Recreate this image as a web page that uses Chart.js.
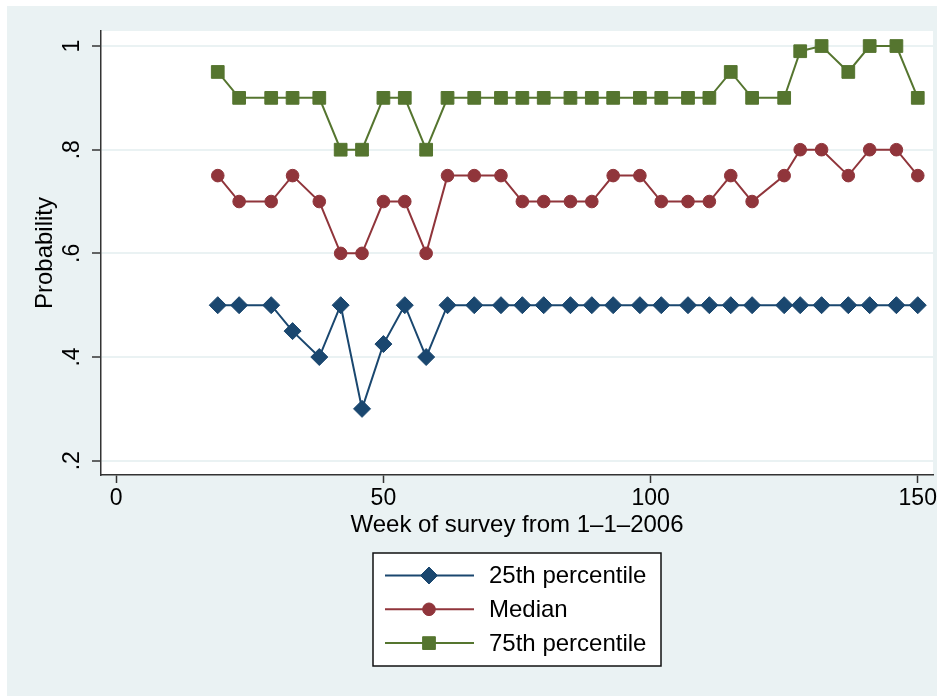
<!DOCTYPE html>
<html>
<head>
<meta charset="utf-8">
<script src="https://cdn.jsdelivr.net/npm/chart.js@4.4.1/dist/chart.umd.min.js"></script>
<style>
  body { margin: 0; background: #fff; }
  canvas { display: block; }
</style>
</head>
<body>
<canvas id="diagram" width="946" height="696"></canvas>
<script>
// weeks since 1-1-2006
const weeks = [19, 23, 29, 33, 38, 42, 46, 50, 54, 58, 62, 67, 72, 76, 80, 85, 89, 93, 98, 102, 107, 111, 115, 119, 125, 128, 132, 137, 141, 146, 150];

const p25 = [.5, .5, .5, .45, .4, .5, .3, .425, .5, .4, .5, .5, .5, .5, .5, .5, .5, .5, .5, .5, .5, .5, .5, .5, .5, .5, .5, .5, .5, .5, .5];
const median = [.75, .7, .7, .75, .7, .6, .6, .7, .7, .6, .75, .75, .75, .7, .7, .7, .7, .75, .75, .7, .7, .7, .75, .7, .75, .8, .8, .75, .8, .8, .75];
const p75 = [.95, .9, .9, .9, .9, .8, .8, .9, .9, .8, .9, .9, .9, .9, .9, .9, .9, .9, .9, .9, .9, .9, .95, .9, .9, .99, 1, .95, 1, 1, .9];

const seriesNames = ['25th percentile', 'Median', '75th percentile'];
const xTicks = [0, 50, 100, 150];
const yTicks = [.2, .4, .6, .8, 1];

const bgColor = '#EAF2F3';
const fontFamily = "'Liberation Sans', Arial, sans-serif";

window.onload = init;

function init() {
    createChart();
}

function toPoints(values) {
    return weeks.map((w, i) => ({ x: w, y: values[i] }));
}

// stata style background + white plot region
const backgroundPlugin = {
    id: 'background',
    beforeDraw(chart) {
        const ctx = chart.ctx;
        const a = chart.chartArea;
        ctx.save();
        ctx.fillStyle = bgColor;
        ctx.fillRect(7, 6, 930, 690);
        ctx.fillStyle = '#fff';
        ctx.fillRect(a.left, a.top, a.right - a.left, a.bottom - a.top);
        ctx.restore();
    }
};

// legend box under the plot
const legendBoxPlugin = {
    id: 'legendBox',
    afterDraw(chart) {
        const ctx = chart.ctx;
        ctx.save();
        ctx.fillStyle = '#fff';
        ctx.fillRect(373, 553, 288, 113);
        ctx.strokeStyle = '#111';
        ctx.lineWidth = 1.5;
        ctx.strokeRect(373, 553, 288, 113);

        chart.data.datasets.forEach((ds, i) => {
            const y = 575.5 + i * 33.8;
            ctx.strokeStyle = ds.borderColor;
            ctx.lineWidth = 2;
            ctx.beginPath();
            ctx.moveTo(385, y);
            ctx.lineTo(474, y);
            ctx.stroke();

            ctx.fillStyle = ds.borderColor;
            ctx.strokeStyle = ds.borderColor;
            ctx.lineWidth = 1;
            Chart.helpers.drawPoint(ctx, {
                pointStyle: ds.pointStyle,
                radius: ds.pointRadius,
                borderWidth: 1,
                rotation: 0
            }, 429, y);

            ctx.fillStyle = '#000';
            ctx.font = '24px ' + fontFamily;
            ctx.textBaseline = 'middle';
            ctx.textAlign = 'left';
            ctx.fillText(ds.label, 489, y + 1);
        });
        ctx.restore();
    }
};

function createChart() {
    const ctx = document.getElementById('diagram').getContext('2d');

    new Chart(ctx, {
        type: 'line',
        data: {
            datasets: [
                {
                    label: seriesNames[0],
                    data: toPoints(p25),
                    borderColor: '#1A476F',
                    backgroundColor: '#1A476F',
                    pointStyle: 'rectRot',
                    pointRadius: 8.5
                },
                {
                    label: seriesNames[1],
                    data: toPoints(median),
                    borderColor: '#90353B',
                    backgroundColor: '#90353B',
                    pointStyle: 'circle',
                    pointRadius: 6.3
                },
                {
                    label: seriesNames[2],
                    data: toPoints(p75),
                    borderColor: '#55752F',
                    backgroundColor: '#55752F',
                    pointStyle: 'rect',
                    pointRadius: 9
                }
            ]
        },
        options: {
            responsive: false,
            devicePixelRatio: 1,
            animation: false,
            layout: {
                padding: { top: 31, right: 13, bottom: 151, left: 0 }
            },
            elements: {
                line: { borderWidth: 2, tension: 0 },
                point: { borderWidth: 1, hoverRadius: 8 }
            },
            plugins: {
                legend: { display: false },
                tooltip: { enabled: false }
            },
            scales: {
                x: {
                    type: 'linear',
                    min: -2.85,
                    max: 152.85,
                    afterBuildTicks: scale => {
                        scale.ticks = xTicks.map(v => ({ value: v }));
                    },
                    afterFit: scale => {
                        scale.height = 70;
                    },
                    grid: {
                        drawOnChartArea: false,
                        drawTicks: true,
                        tickLength: 8,
                        tickColor: '#333',
                        tickWidth: 1.5
                    },
                    border: { display: true, color: '#333', width: 1.5 },
                    ticks: {
                        color: '#000',
                        font: { family: fontFamily, size: 23 },
                        padding: 2,
                        maxRotation: 0,
                        autoSkip: false
                    },
                    title: {
                        display: true,
                        text: 'Week of survey from 1–1–2006',
                        color: '#000',
                        font: { family: fontFamily, size: 24 },
                        padding: { top: 0, bottom: 5 }
                    }
                },
                y: {
                    min: 0.1724,
                    max: 1.029,
                    afterBuildTicks: scale => {
                        scale.ticks = yTicks.map(v => ({ value: v }));
                    },
                    afterFit: scale => {
                        scale.width = 101;
                    },
                    grid: {
                        color: bgColor,
                        lineWidth: 2,
                        drawTicks: true,
                        tickLength: 9,
                        tickColor: '#333',
                        tickWidth: 1.5
                    },
                    border: { display: true, color: '#333', width: 1.5 },
                    ticks: {
                        color: '#000',
                        font: { family: fontFamily, size: 23 },
                        minRotation: 90,
                        maxRotation: 90,
                        crossAlign: 'center',
                        padding: 10,
                        autoSkip: false,
                        callback: v => (v === 1 ? '1' : String(+v.toFixed(1)).replace(/^0/, ''))
                    },
                    title: {
                        display: true,
                        text: 'Probability',
                        color: '#000',
                        font: { family: fontFamily, size: 24 },
                        padding: { top: 31, bottom: 0 }
                    }
                }
            }
        },
        plugins: [backgroundPlugin, legendBoxPlugin]
    });
}
</script>
</body>
</html>
